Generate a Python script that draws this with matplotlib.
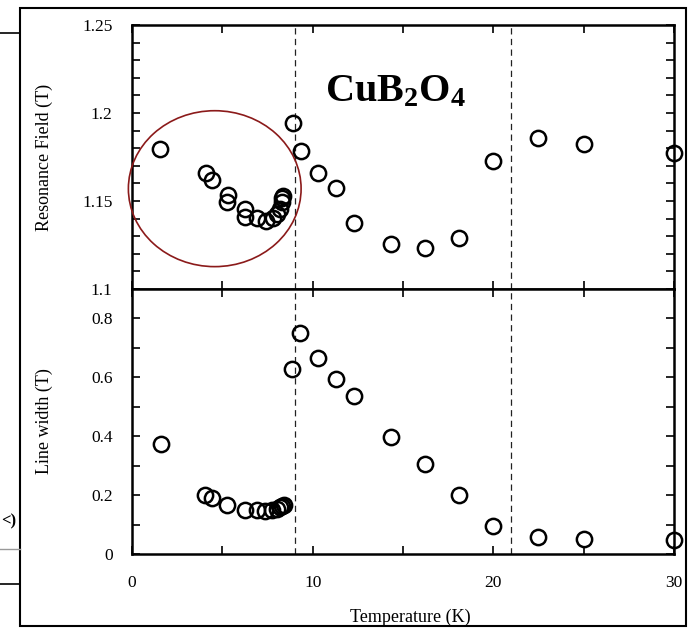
import matplotlib
matplotlib.use('Agg')
import matplotlib.pyplot as plt
from matplotlib.patches import Ellipse, Rectangle
from matplotlib.lines import Line2D
from matplotlib.ticker import MultipleLocator

plt.rcParams['font.family'] = ['Liberation Serif', 'DejaVu Serif']
plt.rcParams['mathtext.fontset'] = 'custom'
plt.rcParams['mathtext.rm'] = 'Liberation Serif'
plt.rcParams['mathtext.bf'] = 'Liberation Serif:bold'

# resonance field (upper panel)
temp_field = [1.55, 4.1, 4.45, 5.3, 5.28, 6.25, 6.27, 6.9, 7.4, 7.8, 8.05, 8.2,
              8.28, 8.33, 8.37, 8.9, 9.35, 10.3, 11.3, 12.3, 14.35, 16.2, 18.1,
              20.0, 22.5, 25.0, 30.0]
field = [1.1795, 1.1657, 1.1620, 1.1534, 1.1495, 1.1452, 1.1411, 1.1405, 1.1388,
         1.1402, 1.1428, 1.1457, 1.1496, 1.1515, 1.1530, 1.1945, 1.1786, 1.1657,
         1.1572, 1.1377, 1.1256, 1.1231, 1.1292, 1.1727, 1.1860, 1.1822, 1.1771]

# line width (lower panel)
temp_width = [1.6, 4.05, 4.42, 5.25, 6.25, 6.9, 7.35, 7.75, 8.05, 8.2, 8.3, 8.4,
              8.88, 9.3, 10.3, 11.3, 12.3, 14.35, 16.2, 18.1, 20.0, 22.5, 25.0, 30.0]
width = [0.373, 0.200, 0.191, 0.168, 0.151, 0.148, 0.145, 0.148, 0.153, 0.158,
         0.163, 0.167, 0.627, 0.749, 0.667, 0.596, 0.536, 0.397, 0.304, 0.202,
         0.094, 0.058, 0.051, 0.046]

transitions = [9.05, 21.0]

fig = plt.figure(figsize=(6.9, 6.3), dpi=100)
ax1 = fig.add_axes([0.1913, 0.5413, 0.7855, 0.4190])
ax2 = fig.add_axes([0.1913, 0.1206, 0.7855, 0.4207])

mk = dict(marker='o', ls='none', ms=11, mfc='none', mec='black', mew=1.8, clip_on=False, zorder=5)
ax1.plot(temp_field, field, **mk)
ax2.plot(temp_width, width, **mk)

for ax in (ax1, ax2):
    ax.set_xlim(0, 30)
    for t in transitions:
        ax.axvline(t, color='#222222', lw=0.9, dashes=(5, 3.5), zorder=1)
    for s in ax.spines.values():
        s.set_linewidth(1.8)
    ax.tick_params(which='both', direction='in', top=True, right=True,
                   length=5.5, width=1.2, labelsize=12.5)
    ax.tick_params(axis='y', pad=14)
    ax.tick_params(axis='x', pad=15)

ax1.set_ylim(1.1, 1.25)
ax1.set_yticks([1.1, 1.15, 1.2, 1.25])
ax1.set_yticklabels(['1.1', '1.15', '1.2', '1.25'])
ax1.yaxis.set_minor_locator(MultipleLocator(0.01))
ax1.xaxis.set_major_locator(MultipleLocator(5))
ax1.set_xticklabels([])
ax1.set_ylabel('Resonance Field (T)', fontsize=13)
ax1.yaxis.set_label_coords(-0.145, 0.5)

ax2.set_ylim(0, 0.9)
ax2.set_yticks([0, 0.2, 0.4, 0.6, 0.8])
ax2.set_yticklabels(['0', '0.2', '0.4', '0.6', '0.8'])
ax2.yaxis.set_minor_locator(MultipleLocator(0.1))
ax2.set_xticks([0, 10, 20, 30])
ax2.xaxis.set_minor_locator(MultipleLocator(5))
ax2.set_ylabel('Line width (T)', fontsize=13)
ax2.yaxis.set_label_coords(-0.145, 0.5)
ax2.set_xlabel('Temperature (K)', fontsize=13, va='top')
ax2.xaxis.set_label_coords(0.513, -0.205)

ax1.add_patch(Ellipse((4.58, 1.157), 9.56, 0.0886, fill=False, ec='#8b1a1a',
                      lw=1.2, clip_on=False, zorder=4))
ax1.text(0.471, 0.8386, r'$\mathbf{CuB_2O_4}$', transform=fig.transFigure,
         fontsize=29, va='baseline', ha='left')

# surrounding frame and cropped bits of the neighbouring figure
fig.patches.append(Rectangle((20 / 690, 1 - 626 / 630), 666 / 690, 618.5 / 630,
                             transform=fig.transFigure, fill=False, ec='black', lw=1.5))
fig.lines.append(Line2D([0, 20 / 690], [1 - 33 / 630] * 2, transform=fig.transFigure, color='black', lw=1.2))
fig.lines.append(Line2D([0, 20 / 690], [1 - 549 / 630] * 2, transform=fig.transFigure, color='#999999', lw=1.0))
fig.lines.append(Line2D([0, 20 / 690], [1 - 584 / 630] * 2, transform=fig.transFigure, color='black', lw=1.2))
fig.text(1 / 690, 1 - 521 / 630, '<)', fontsize=12, fontweight='bold', ha='left', va='center')

fig.savefig('out.png', dpi=100)
